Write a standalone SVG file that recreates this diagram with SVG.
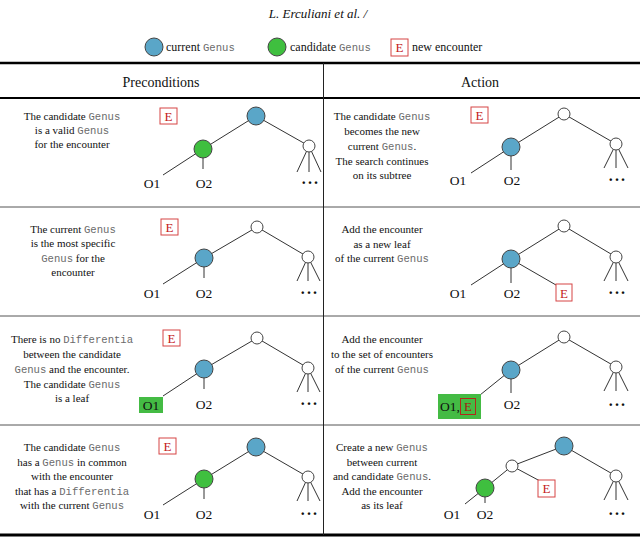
<svg xmlns="http://www.w3.org/2000/svg" width="640" height="538" viewBox="0 0 640 538">
<style>
.t{font-family:"Liberation Serif",serif;font-size:11px;fill:#111;text-anchor:middle}
.g{font-family:"Liberation Mono",monospace;fill:#6b6b6b;font-size:10.6px}
.h{font-family:"Liberation Serif",serif;font-size:14px;fill:#111;text-anchor:middle}
.lb{font-family:"Liberation Serif",serif;font-size:13.5px;fill:#111;text-anchor:middle}
.dt{font-family:"Liberation Serif",serif;font-size:16px;font-weight:bold;fill:#111;text-anchor:middle;letter-spacing:2.2px}
.ed{stroke:#333;stroke-width:1;fill:none}
.cb{fill:#5aa6c8;stroke:#444;stroke-width:1}
.cg{fill:#3fbf3f;stroke:#444;stroke-width:1}
.cw{fill:#fff;stroke:#444;stroke-width:1}
.eb{fill:#fff;stroke:#d64545;stroke-width:1}
.et{font-family:"Liberation Serif",serif;font-size:13px;fill:#c42020;text-anchor:middle}
.gb{fill:#44bb44}
</style>

<g id="title"><text x="318" y="18" font-family="Liberation Serif, serif" font-style="italic" font-size="13" fill="#111" text-anchor="middle">L. Erculiani et al. /</text></g>

<g id="legend">
<circle class="cb" cx="154" cy="47" r="9"/>
<text x="166" y="51" font-family="Liberation Serif, serif" font-size="12" fill="#111">current <tspan class="g">Genus</tspan></text>
<circle class="cg" cx="277" cy="47" r="9"/>
<text x="290" y="51" font-family="Liberation Serif, serif" font-size="12" fill="#111">candidate <tspan class="g">Genus</tspan></text>
<rect class="eb" x="391" y="39" width="17" height="17"/>
<text class="et" x="399.5" y="52">E</text>
<text x="412" y="51" font-family="Liberation Serif, serif" font-size="12" fill="#111">new encounter</text>
</g>

<g id="table">
<line x1="0" y1="63" x2="640" y2="63" stroke="#000" stroke-width="2.5"/>
<line x1="0" y1="98" x2="640" y2="98" stroke="#000" stroke-width="2"/>
<line x1="0" y1="207" x2="640" y2="207" stroke="#555" stroke-width="1"/>
<line x1="0" y1="316" x2="640" y2="316" stroke="#555" stroke-width="1"/>
<line x1="0" y1="425" x2="640" y2="425" stroke="#555" stroke-width="1"/>
<line x1="0" y1="535" x2="640" y2="535" stroke="#000" stroke-width="3"/>
<line x1="323.5" y1="63" x2="323.5" y2="535" stroke="#222" stroke-width="1"/>
<text class="h" x="161" y="87">Preconditions</text>
<text class="h" x="480" y="87">Action</text>
</g>

<g id="connectors">
<path class="ed" d="M256,116L203,149M256,116L309,146M203,149L203,169M203,149L163,175M309,146L297,172M309,146L309,172M309,146L321,172"/>
<path class="ed" d="M257,227L204,258M257,227L308,257M204,258L204,278M204,258L163,284M308,257L297,281M308,257L308,281M308,257L320,281"/>
<path class="ed" d="M257,338L204,369M257,338L308,368M204,369L204,389M204,369L163,396M308,368L297,392M308,368L308,392M308,368L320,392"/>
<path class="ed" d="M256,447L204,479M256,447L308,477M204,479L204,499M204,479L163,505M308,477L297,501M308,477L308,501M308,477L320,501"/>
<path class="ed" d="M564,114L511,147M564,114L616,144M511,147L511,170M511,147L471,173M616,144L604,168M616,144L616,168M616,144L628,168"/>
<path class="ed" d="M564,226L511,259M564,226L616,257M511,259L511,283M511,259L471,285M511,259L556,285M616,257L604,281M616,257L616,281M616,257L628,281"/>
<path class="ed" d="M564,337L511,370M564,337L616,367M511,370L511,393M511,370L480,395M616,367L604,391M616,367L616,391M616,367L628,391"/>
<path class="ed" d="M564,446L512,466M564,446L616,476M512,466L485,488M512,466L540,481M485,488L485,503M485,488L465,504M616,476L604,500M616,476L616,500M616,476L628,500"/>
</g>

<g id="row1-pre">
<text class="t" x="72" y="119.5">The candidate <tspan class="g">Genus</tspan></text>
<text class="t" x="72" y="134">is a valid <tspan class="g">Genus</tspan></text>
<text class="t" x="72" y="148">for the encounter</text>
<rect class="eb" x="160" y="108" width="17" height="16"/><text class="et" x="168.5" y="121">E</text>
<circle class="cb" cx="256" cy="116" r="9"/>
<circle class="cg" cx="203" cy="149" r="9"/>
<circle class="cw" cx="309" cy="146" r="6"/>
<text class="lb" x="152" y="188">O1</text><text class="lb" x="204" y="188">O2</text>
<text class="dt" x="311" y="184">...</text>
</g>

<g id="row1-act">
<text class="t" x="382" y="120">The candidate <tspan class="g">Genus</tspan></text>
<text class="t" x="382" y="135">becomes the new</text>
<text class="t" x="382" y="150">current <tspan class="g">Genus</tspan>.</text>
<text class="t" x="382" y="164.5">The search continues</text>
<text class="t" x="382" y="179">on its subtree</text>
<rect class="eb" x="471" y="107" width="17" height="16"/><text class="et" x="479.5" y="120">E</text>
<circle class="cw" cx="564" cy="114" r="6"/>
<circle class="cb" cx="511" cy="147" r="9"/>
<circle class="cw" cx="616" cy="144" r="6"/>
<text class="lb" x="458" y="185">O1</text><text class="lb" x="512" y="185">O2</text>
<text class="dt" x="618" y="181">...</text>
</g>

<g id="row2-pre">
<text class="t" x="73" y="233">The current <tspan class="g">Genus</tspan></text>
<text class="t" x="73" y="247">is the most specific</text>
<text class="t" x="73" y="261.5"><tspan class="g">Genus</tspan> for the</text>
<text class="t" x="73" y="275.5">encounter</text>
<rect class="eb" x="161" y="219" width="17" height="16"/><text class="et" x="169.5" y="232">E</text>
<circle class="cw" cx="257" cy="227" r="6"/>
<circle class="cb" cx="204" cy="258" r="9"/>
<circle class="cw" cx="308" cy="257" r="6"/>
<text class="lb" x="152" y="298">O1</text><text class="lb" x="204" y="298">O2</text>
<text class="dt" x="310" y="294">...</text>
</g>

<g id="row2-act">
<text class="t" x="382" y="233">Add the encounter</text>
<text class="t" x="382" y="247.5">as a new leaf</text>
<text class="t" x="382" y="262">of the current <tspan class="g">Genus</tspan></text>
<circle class="cw" cx="564" cy="226" r="6"/>
<circle class="cb" cx="511" cy="259" r="9"/>
<circle class="cw" cx="616" cy="257" r="6"/>
<rect class="eb" x="556" y="284" width="16" height="17"/><text class="et" x="564" y="297.5">E</text>
<text class="lb" x="458" y="298">O1</text><text class="lb" x="512" y="298">O2</text>
<text class="dt" x="618" y="294">...</text>
</g>

<g id="row3-pre">
<text class="t" x="72" y="343">There is no <tspan class="g">Differentia</tspan></text>
<text class="t" x="72" y="358">between the candidate</text>
<text class="t" x="72" y="373"><tspan class="g">Genus</tspan> and the encounter.</text>
<text class="t" x="72" y="388">The candidate <tspan class="g">Genus</tspan></text>
<text class="t" x="72" y="402">is a leaf</text>
<rect class="eb" x="163" y="330" width="17" height="16"/><text class="et" x="171.5" y="343">E</text>
<circle class="cw" cx="257" cy="338" r="6"/>
<circle class="cb" cx="204" cy="369" r="9"/>
<circle class="cw" cx="308" cy="368" r="6"/>
<rect class="gb" x="139" y="397" width="24" height="16"/>
<text class="lb" x="151" y="410">O1</text><text class="lb" x="204" y="409">O2</text>
<text class="dt" x="310" y="405">...</text>
</g>

<g id="row3-act">
<text class="t" x="382" y="343">Add the encounter</text>
<text class="t" x="382" y="358">to the set of encounters</text>
<text class="t" x="382" y="373">of the current <tspan class="g">Genus</tspan></text>
<circle class="cw" cx="564" cy="337" r="6"/>
<circle class="cb" cx="511" cy="370" r="9"/>
<circle class="cw" cx="616" cy="367" r="6"/>
<rect class="gb" x="438" y="394" width="43" height="25"/>
<text x="440" y="411" font-family="Liberation Serif, serif" font-size="13.5" fill="#111">O1,</text>
<rect x="460.5" y="398.5" width="15" height="16" fill="none" stroke="#b02a1a" stroke-width="1"/><text x="468" y="411" font-family="Liberation Serif, serif" font-size="13" fill="#a52010" text-anchor="middle">E</text>
<text class="lb" x="512" y="409">O2</text>
<text class="dt" x="618" y="406">...</text>
</g>

<g id="row4-pre">
<text class="t" x="72" y="451">The candidate <tspan class="g">Genus</tspan></text>
<text class="t" x="72" y="465.5">has a <tspan class="g">Genus</tspan> in common</text>
<text class="t" x="72" y="480">with the encounter</text>
<text class="t" x="72" y="495">that has a <tspan class="g">Differentia</tspan></text>
<text class="t" x="72" y="509">with the current <tspan class="g">Genus</tspan></text>
<rect class="eb" x="159" y="438" width="17" height="16"/><text class="et" x="167.5" y="451">E</text>
<circle class="cb" cx="256" cy="447" r="9"/>
<circle class="cg" cx="204" cy="479" r="9"/>
<circle class="cw" cx="308" cy="477" r="6"/>
<text class="lb" x="152" y="519">O1</text><text class="lb" x="204" y="519">O2</text>
<text class="dt" x="310" y="515">...</text>
</g>

<g id="row4-act">
<text class="t" x="382" y="451">Create a new <tspan class="g">Genus</tspan></text>
<text class="t" x="382" y="465.5">between current</text>
<text class="t" x="382" y="480">and candidate <tspan class="g">Genus</tspan>.</text>
<text class="t" x="382" y="494.5">Add the encounter</text>
<text class="t" x="382" y="509">as its leaf</text>
<circle class="cb" cx="564" cy="446" r="9"/>
<circle class="cw" cx="512" cy="466" r="6"/>
<circle class="cg" cx="485" cy="488" r="9"/>
<circle class="cw" cx="616" cy="476" r="6"/>
<rect class="eb" x="538" y="480" width="17" height="17"/><text class="et" x="546.5" y="493">E</text>
<text class="lb" x="452" y="519">O1</text><text class="lb" x="485" y="519">O2</text>
<text class="dt" x="618" y="515">...</text>
</g>
</svg>
